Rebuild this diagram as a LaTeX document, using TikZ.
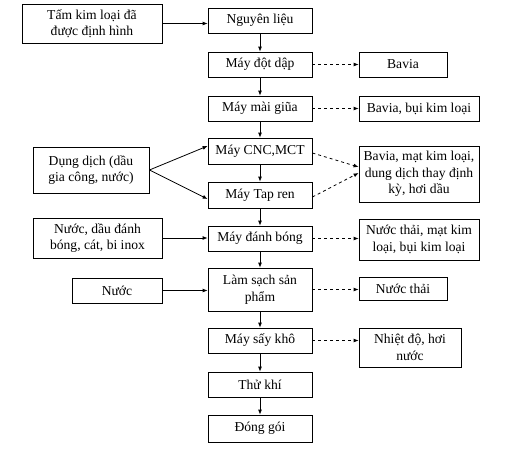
\documentclass[tikz,border=0pt]{standalone}
\usepackage{fontspec}
\setmainfont{Liberation Serif}
\usepackage{tikz}
\usetikzlibrary{arrows.meta}

\begin{document}
\begin{tikzpicture}[
        x=1pt, y=-1pt,
        font=\fontsize{13.6}{16.5}\selectfont,
        box/.style={draw, thick, align=center, inner sep=1pt},
        flow/.style={thick, -{Latex[length=5pt, width=4pt]}},
        waste/.style={flow, dashed},
    ]

        \useasboundingbox (0, 0) rectangle (514, 453);

        % main column
        \node[box, minimum width=104, minimum height=25] (nl) at (260, 20.5) {Nguyên liệu};
        \node[box, minimum width=104, minimum height=25] (dotdap) at (260, 64.5) {Máy đột dập};
        \node[box, minimum width=104, minimum height=25] (maigiua) at (260, 108.5) {Máy mài giũa};
        \node[box, minimum width=104, minimum height=26] (cnc) at (260, 151) {Máy CNC,MCT};
        \node[box, minimum width=104, minimum height=26] (tapren) at (260, 195) {Máy Tap ren};
        \node[box, minimum width=104, minimum height=25] (danhbong) at (260, 238.5) {Máy đánh bóng};
        \node[box, minimum width=104, minimum height=43] (lamsach) at (260, 289.5) {Làm sạch sản\\phẩm};
        \node[box, minimum width=104, minimum height=25] (saykho) at (260, 340.5) {Máy sấy khô};
        \node[box, minimum width=104, minimum height=25] (thukhi) at (260, 384.5) {Thử khí};
        \node[box, minimum width=104, minimum height=27] (donggoi) at (260, 428.5) {Đóng gói};

        % inputs
        \node[box, minimum width=140, minimum height=39] (tamkl) at (92, 23.5) {Tấm kim loại đã\\được định hình};
        \node[box, minimum width=116, minimum height=46] (dungdich) at (91, 170) {Dụng dịch (dầu\\gia công, nước)};
        \node[box, minimum width=129, minimum height=40] (nuocdau) at (97.5, 238) {Nước, dầu đánh\\bóng, cát, bi inox};
        \node[box, minimum width=90, minimum height=25] (nuoc) at (117, 290.5) {Nước};

        % outputs
        \node[box, minimum width=88, minimum height=25] (bavia) at (403, 64.5) {Bavia};
        \node[box, minimum width=120, minimum height=25] (baviabui) at (419, 108.5) {Bavia, bụi kim loại};
        \node[box, minimum width=120, minimum height=56] (baviamat) at (419, 174) {Bavia, mạt kim loại,\\dung dịch thay định\\kỳ, hơi dầu};
        \node[box, minimum width=120, minimum height=41] (nuocthai1) at (419, 239.5) {Nước thải, mạt kim\\loại, bụi kim loại};
        \node[box, minimum width=88, minimum height=23] (nuocthai2) at (403, 289) {Nước thải};
        \node[box, minimum width=102, minimum height=39] (nhietdo) at (410, 347.5) {Nhiệt độ, hơi\\nước};

        % main flow
        \draw[flow] (nl) -- (dotdap);
        \draw[flow] (dotdap) -- (maigiua);
        \draw[flow] (maigiua) -- (cnc);
        \draw[flow] (cnc) -- (tapren);
        \draw[flow] (tapren) -- (danhbong);
        \draw[flow] (danhbong) -- (lamsach);
        \draw[flow] (lamsach) -- (saykho);
        \draw[flow] (saykho) -- (thukhi);
        \draw[flow] (thukhi) -- (donggoi);

        % inputs
        \draw[flow] (tamkl.east) -- (tamkl.east -| nl.west);
        \draw[flow] (dungdich.east) -- ([yshift=5pt]cnc.west);
        \draw[flow] (dungdich.east) -- ([yshift=-4pt]tapren.west);
        \draw[flow] (nuocdau.east) -- (nuocdau.east -| danhbong.west);
        \draw[flow] (nuoc.east) -- (nuoc.east -| lamsach.west);

        % wastes
        \draw[waste] (dotdap) -- (bavia);
        \draw[waste] (maigiua) -- (baviabui);
        \draw[waste] ([yshift=-2pt]cnc.east) -- ([yshift=7pt]baviamat.west);
        \draw[waste] ([yshift=-2pt]tapren.east) -- ([yshift=1pt]baviamat.west);
        \draw[waste] (danhbong) -- (danhbong -| nuocthai1.west);
        \draw[waste] (lamsach) -- (lamsach -| nuocthai2.west);
        \draw[waste] (saykho) -- (saykho -| nhietdo.west);
    \end{tikzpicture}
\end{document}
